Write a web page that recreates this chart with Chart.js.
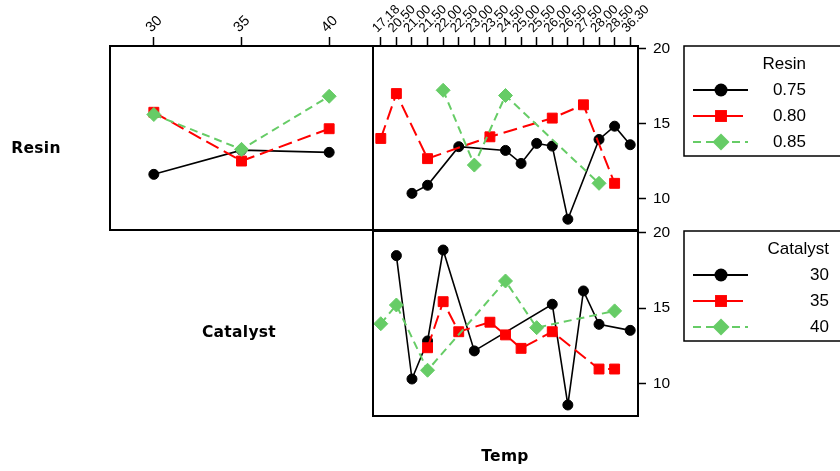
<!DOCTYPE html>
<html><head><meta charset="utf-8">
<script src="https://cdn.jsdelivr.net/npm/chart.js@4.4.0/dist/chart.umd.min.js"></script>
<style>
html,body{margin:0;padding:0;background:#fff;}
#wrap{position:relative;width:840px;height:471px;overflow:hidden;background:#fff;}
canvas{position:absolute;left:0;top:0;}
.lbl{position:absolute;font-family:"DejaVu Sans",sans-serif;font-weight:bold;font-size:15.5px;color:#000;white-space:nowrap;transform:translate(-50%,-50%);line-height:1.164;letter-spacing:0.3px;}
</style></head><body>
<div id="wrap">
<canvas id="cLeft" width="840" height="471"></canvas>
<canvas id="cTop" width="840" height="471"></canvas>
<canvas id="cBot" width="840" height="471"></canvas>
<div class="lbl" style="left:36px;top:148px">Resin</div>
<div class="lbl" style="left:239px;top:332px">Catalyst</div>
<div class="lbl" style="left:505px;top:456px">Temp</div>
</div>
<script>
// ---- categories / tick labels ----
const catalystLevels = ['30', '35', '40'];
const tempLevels = ['17.18','20.50','21.00','21.50','22.00','22.50','23.00','23.50','24.50','25.00','25.50','26.00','26.50','27.50','28.00','28.50','36.30'];
const resinLevels = ['0.75', '0.80', '0.85'];
const yTickValues = [10, 15, 20];

// ---- left panel: Catalyst on x, one line per Resin level ----
const resin075ByCatalyst = [11.62, 13.24, 13.09];
const resin080ByCatalyst = [15.77, 12.51, 14.67];
const resin085ByCatalyst = [15.62, 13.29, 16.84];

// ---- top-right panel: Temp on x, one line per Resin level ----
const resin075ByTemp = [null, null, 10.35, 10.89, null, 13.47, null, null, 13.22, 12.35, 13.69, 13.51, 8.62, null, 13.95, 14.84, 13.60];
const resin080ByTemp = [14.02, 17.02, null, 12.67, null, null, null, 14.13, null, null, null, 15.38, null, 16.27, null, 11.02, null];
const resin085ByTemp = [null, null, null, null, 17.24, null, 12.24, null, 16.89, null, null, null, null, null, 11.02, null, null];

// ---- bottom-right panel: Temp on x, one line per Catalyst level ----
const cat30ByTemp = [null, 18.48, 10.31, 12.83, 18.85, null, 12.17, null, null, null, null, 15.26, 8.59, 16.14, 13.93, null, 13.53];
const cat35ByTemp = [null, null, null, 12.38, 15.43, 13.44, null, 14.07, 13.23, 12.34, null, 13.44, null, null, 10.97, 10.97, null];
const cat40ByTemp = [13.97, 15.21, null, 10.89, null, null, null, null, 16.80, null, 13.71, null, null, null, null, 14.82, null];

// ---- styles ----
const FONT = '"Liberation Sans", Arial, sans-serif';
const seriesStyles = [
  { color: '#000000', dash: [], point: 'circle', radius: 5, width: 1.6 },
  { color: '#FF0000', dash: [14, 6], point: 'rect', radius: 7, width: 2 },
  { color: '#66CC66', dash: [8, 5], point: 'rectRot', radius: 7, width: 2 }
];

function ds(label, data, st, order) {
  return {
    label, data, order,
    borderColor: st.color, backgroundColor: st.color,
    borderDash: st.dash, borderWidth: st.width,
    pointStyle: st.point, pointRadius: st.radius, pointHoverRadius: st.radius,
    pointBorderWidth: 1, pointBackgroundColor: st.color, pointBorderColor: st.color,
    spanGaps: true, tension: 0, fill: false, clip: false
  };
}

const framePlugin = {
  id: 'frame',
  afterDraw(chart) {
    const a = chart.chartArea, c = chart.ctx;
    c.save();
    c.strokeStyle = '#000';
    c.lineWidth = 2;
    c.strokeRect(a.left, a.top, a.right - a.left, a.bottom - a.top);
    c.restore();
  }
};

function drawMarker(c, st, x, y) {
  c.fillStyle = st.color;
  c.beginPath();
  if (st.point === 'circle') {
    c.arc(x, y, st.radius + 1.5, 0, Math.PI * 2);
  } else if (st.point === 'rect') {
    const s = Math.SQRT1_2 * st.radius + 1;
    c.rect(x - s, y - s, 2 * s, 2 * s);
  } else {
    const r = st.radius + 1.5;
    c.moveTo(x, y - r); c.lineTo(x + r, y); c.lineTo(x, y + r); c.lineTo(x - r, y); c.closePath();
  }
  c.fill();
}

function drawLegend(c, box, title, labels, textRight) {
  c.save();
  c.strokeStyle = '#000';
  c.lineWidth = 1.5;
  c.strokeRect(box.left, box.top, 900 - box.left, box.bottom - box.top);
  c.fillStyle = '#000';
  c.font = '17px ' + FONT;
  c.textAlign = 'right';
  c.textBaseline = 'middle';
  c.fillText(title, textRight, box.top + 18);
  labels.forEach((lab, i) => {
    const st = seriesStyles[i];
    const y = box.top + 44 + i * 26;
    c.strokeStyle = st.color;
    c.lineWidth = 2;
    c.setLineDash(i === 2 ? [8, 5] : []);
    c.beginPath();
    c.moveTo(693, y); c.lineTo(i === 1 ? 743 : 748, y);
    c.stroke();
    c.setLineDash([]);
    drawMarker(c, st, 721, y);
    c.fillStyle = '#000';
    c.fillText(lab, textRight, y);
  });
  c.restore();
}

function xTopAxis(labelSize, shift) {
  return {
    type: 'category', position: 'top', offset: true,
    grid: { drawOnChartArea: false, drawTicks: true, tickLength: 9, color: '#000', tickWidth: 1.5, offset: false },
    border: { display: false },
    ticks: { autoSkip: false, minRotation: 45, maxRotation: 45, padding: 1, labelOffset: shift, color: '#000', font: { family: FONT, size: labelSize } },
    afterFit(s) { s.height = 46; s.paddingLeft = 0; s.paddingRight = 0; s.paddingTop = 0; s.paddingBottom = 0; }
  };
}
function yRightAxis(min, max) {
  return {
    type: 'linear', position: 'right', min, max,
    grid: { drawOnChartArea: false, drawTicks: true, tickLength: 8, color: '#000', tickWidth: 1.5 },
    border: { display: false },
    ticks: { padding: 7, color: '#000', font: { family: FONT, size: 15.5 } },
    afterBuildTicks(s) { s.ticks = yTickValues.map(v => ({ value: v })); },
    afterFit(s) { s.width = 46; s.paddingTop = 0; s.paddingBottom = 0; }
  };
}

const common = {
  responsive: false, animation: false,
  plugins: { legend: { display: false }, tooltip: { enabled: false } },
  events: []
};

// Left panel
new Chart(document.getElementById('cLeft'), {
  type: 'line',
  data: {
    labels: catalystLevels,
    datasets: [
      ds(resinLevels[0], resin075ByCatalyst, seriesStyles[0], 3),
      ds(resinLevels[1], resin080ByCatalyst, seriesStyles[1], 2),
      ds(resinLevels[2], resin085ByCatalyst, seriesStyles[2], 1)
    ]
  },
  options: Object.assign({}, common, {
    layout: { padding: { left: 110, top: 0, right: 467, bottom: 241 } },
    scales: {
      x: xTopAxis(14.5, 7),
      y: { type: 'linear', display: false, min: 7.9, max: 20.2 }
    }
  }),
  plugins: [framePlugin]
});

// Top-right panel
new Chart(document.getElementById('cTop'), {
  type: 'line',
  data: {
    labels: tempLevels,
    datasets: [
      ds(resinLevels[0], resin075ByTemp, seriesStyles[0], 3),
      ds(resinLevels[1], resin080ByTemp, seriesStyles[1], 2),
      ds(resinLevels[2], resin085ByTemp, seriesStyles[2], 1)
    ]
  },
  options: Object.assign({}, common, {
    layout: { padding: { left: 373, top: 0, right: 156, bottom: 241 } },
    scales: {
      x: xTopAxis(13, 5),
      y: yRightAxis(7.9, 20.2)
    }
  }),
  plugins: [framePlugin, {
    id: 'resinLegend',
    afterDraw(chart) { drawLegend(chart.ctx, { left: 684, top: 46, bottom: 156 }, 'Resin', resinLevels, 806); }
  }]
});

// Bottom-right panel
new Chart(document.getElementById('cBot'), {
  type: 'line',
  data: {
    labels: tempLevels,
    datasets: [
      ds(catalystLevels[0], cat30ByTemp, seriesStyles[0], 3),
      ds(catalystLevels[1], cat35ByTemp, seriesStyles[1], 2),
      ds(catalystLevels[2], cat40ByTemp, seriesStyles[2], 1)
    ]
  },
  options: Object.assign({}, common, {
    layout: { padding: { left: 373, top: 231, right: 156, bottom: 55 } },
    scales: {
      x: { type: 'category', display: false, offset: true },
      y: yRightAxis(7.86, 20.11)
    }
  }),
  plugins: [framePlugin, {
    id: 'catalystLegend',
    afterDraw(chart) { drawLegend(chart.ctx, { left: 684, top: 231, bottom: 341 }, 'Catalyst', catalystLevels, 829); }
  }]
});
</script>
</body></html>
